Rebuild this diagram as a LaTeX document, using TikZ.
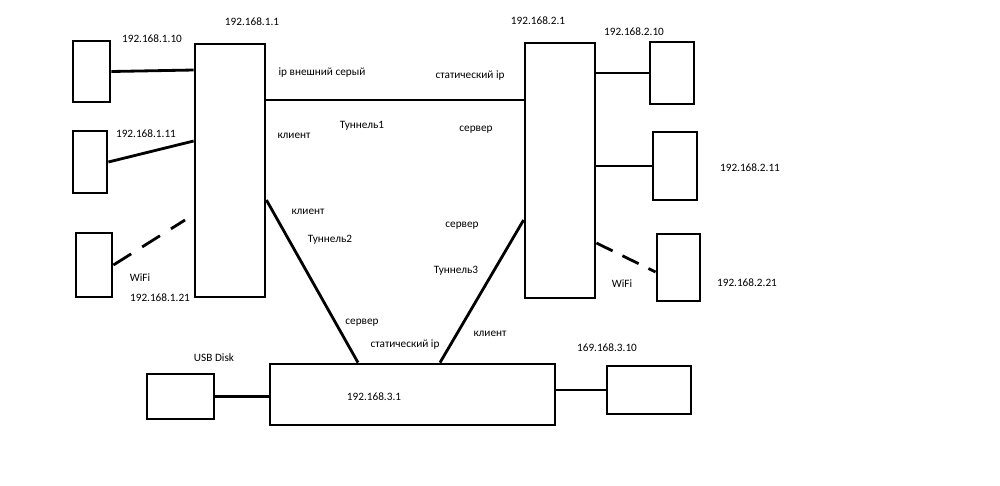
\documentclass[tikz,border=0pt]{standalone}
\usepackage{fontspec}
\setmainfont{Carlito}
\usepackage{tikz}
\usetikzlibrary{positioning}

\begin{document}
\begin{tikzpicture}[
    x=0.02cm, y=-0.02cm,
    box/.style={draw, rectangle, line width=1.6pt, inner sep=0pt},
    lbl/.style={font=\fontsize{6.4}{7.7}\selectfont, text=black, inner sep=1pt},
    wire/.style={line width=1.6pt},
    wifi/.style={line width=1.6pt, dash pattern=on 0.42cm off 0.26cm},
    wifir/.style={line width=1.6pt, dash pattern=on 0.36cm off 0.22cm}
]
\useasboundingbox (0,0) rectangle (1000,485);

% Routers
\node (r1) [box, minimum width=1.4cm, minimum height=5.06cm] at (230,170.5) {};
\node (r2) [box, minimum width=1.4cm, minimum height=5.1cm] at (560,170.5) {};
\node (r3) [box, minimum width=5.7cm, minimum height=1.22cm] at (412.5,394.5) {};

% Clients (left)
\node (pc1) [box, minimum width=0.74cm, minimum height=1.22cm] at (91.5,71.5) {};
\node (pc2) [box, minimum width=0.68cm, minimum height=1.24cm] at (90,162) {};
\node (pc3) [box, minimum width=0.72cm, minimum height=1.28cm] at (94,265) {};

% Clients (right)
\node (pc4) [box, minimum width=0.88cm, minimum height=1.24cm] at (672,73) {};
\node (pc5) [box, minimum width=0.88cm, minimum height=1.36cm] at (675,166) {};
\node (pc6) [box, minimum width=0.86cm, minimum height=1.34cm] at (678.5,267.5) {};

% Bottom
\node (usb) [box, minimum width=1.34cm, minimum height=0.9cm] at (180.5,396.5) {};
\node (pc7) [box, minimum width=1.68cm, minimum height=0.96cm] at (649,390) {};

% Labels
\node (ip11) [lbl] at (252,22) {192.168.1.1};
\node (ip110) [lbl] at (152,39) {192.168.1.10};
\node (ip111) [lbl] at (146,134) {192.168.1.11};
\node (wifil) [lbl] at (140,278) {WiFi};
\node (ip121) [lbl] at (160,298) {192.168.1.21};
\node (extip) [lbl] at (322,73) {ip внешний серый};
\node (cl1) [lbl] at (294,136) {клиент};
\node (tun1) [lbl] at (362,126) {Туннель1};
\node (stat1) [lbl] at (470,76) {статический ip};
\node (srv1) [lbl] at (476,130) {сервер};
\node (ip21) [lbl] at (538,21) {192.168.2.1};
\node (ip210) [lbl] at (634,32) {192.168.2.10};
\node (ip211) [lbl] at (750,168) {192.168.2.11};
\node (ip221) [lbl] at (747,283) {192.168.2.21};
\node (wifirl) [lbl] at (622,284) {WiFi};
\node (cl2) [lbl] at (308,212) {клиент};
\node (tun2) [lbl] at (330,240) {Туннель2};
\node (srv3) [lbl] at (462,226) {сервер};
\node (tun3) [lbl] at (456,271) {Туннель3};
\node (srv2) [lbl] at (362,323) {сервер};
\node (stat3) [lbl] at (405,345) {статический ip};
\node (cl3) [lbl] at (490,334) {клиент};
\node (usbl) [lbl] at (214,358) {USB Disk};
\node (ip310) [lbl] at (607,348) {169.168.3.10};
\node (ip31) [lbl] at (374,397) {192.168.3.1};

\coordinate (wl) at (185,220);

% Local links
\draw[wire] (pc1.east) -- ([yshift=0.03cm]pc1.east -| r1.west);
\draw[wire] (pc2.east) -- ([yshift=0.59cm]r1.west);
\draw[wifi] (pc3.east) -- (wl);
\draw[wire] (pc4.west -| r2.east) -- (pc4.west);
\draw[wire] (pc5.west -| r2.east) -- (pc5.west);
\draw[wifir] ([yshift=-1.45cm]r2.east) -- ([yshift=-0.09cm]pc6.west);
\draw[wire] (usb.east) -- (usb.east -| r3.west);
\draw[wire] (pc7.west -| r3.east) -- (pc7.west);

% Tunnels
\draw[wire] ([yshift=1.41cm]r1.east) -- ([yshift=1.41cm]r2.west);
\draw[wire] ([yshift=-0.59cm]r1.east) -- ([xshift=-1.09cm]r3.north);
\draw[wire] ([yshift=-0.99cm]r2.west) -- ([xshift=0.55cm]r3.north);

\end{tikzpicture}
\end{document}
